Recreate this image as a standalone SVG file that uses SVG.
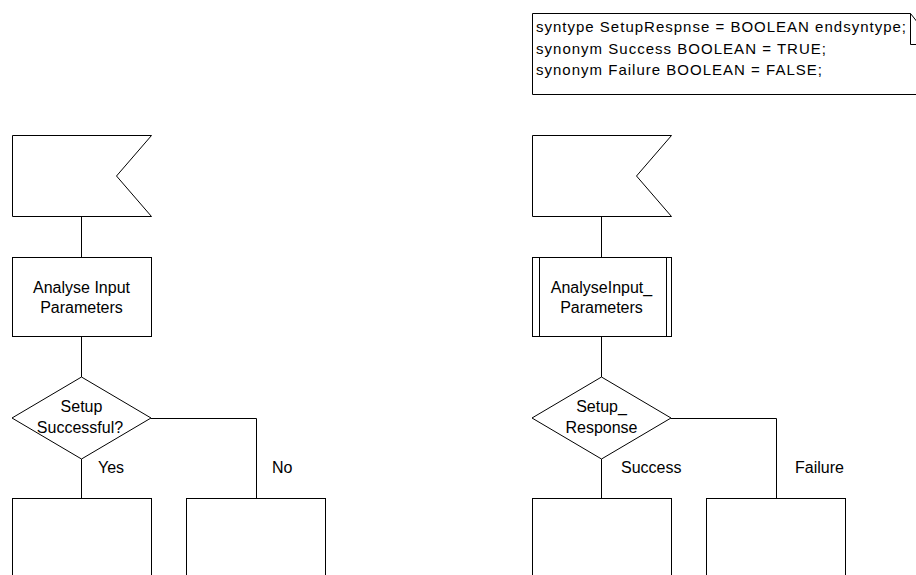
<svg xmlns="http://www.w3.org/2000/svg" width="916" height="575" viewBox="0 0 916 575">
  <style>
    .sym { fill: #fff; stroke: #000; stroke-width: 1; }
    .ln { fill: none; stroke: #000; stroke-width: 1; }
    text { font-family: "Liberation Sans", Arial, sans-serif; font-size: 16px; fill: #000; }
    .c { text-anchor: middle; }
    .decl { font-size: 15px; }
  </style>
  <rect width="916" height="575" fill="#fff"/>

  <!-- connectors -->
  <g id="connectors" class="ln">
    <path d="M81.5,216.5 V257.5"/>
    <path d="M81.5,336.5 V377"/>
    <path d="M81.5,459 V498.5"/>
    <path d="M151,418.5 H256.5 V498.5"/>
    <path d="M601.5,216.5 V257.5"/>
    <path d="M601.5,336.5 V377"/>
    <path d="M601.5,459 V498.5"/>
    <path d="M671,418.5 H776.5 V498.5"/>
  </g>

  <!-- declarations text symbol -->
  <g id="decl">
    <path class="ln" d="M910.5,13.5 H532.5 V94.5 H920"/>
    <path class="ln" d="M910.5,13.5 L935,44.5 M910.5,13.5 V44.5 H935"/>
    <text class="decl" x="536" y="32" textLength="370" lengthAdjust="spacing">syntype SetupRespnse = BOOLEAN endsyntype;</text>
    <text class="decl" x="536" y="53.5" textLength="290" lengthAdjust="spacing">synonym Success BOOLEAN = TRUE;</text>
    <text class="decl" x="536" y="75" textLength="286" lengthAdjust="spacing">synonym Failure BOOLEAN = FALSE;</text>
  </g>

  <!-- left flow -->
  <g id="input1">
    <path class="sym" d="M12.5,135.5 H151.5 L116.5,176 L151.5,216.5 H12.5 Z"/>
  </g>
  <g id="task1">
    <rect class="sym" x="12.5" y="257.5" width="139" height="79"/>
    <text class="c" x="81.5" y="293">Analyse Input</text>
    <text class="c" x="81.5" y="313">Parameters</text>
  </g>
  <g id="decision1">
    <path class="sym" d="M81.5,377 L151,418 L81.5,459 L12,418 Z"/>
    <text class="c" x="81.5" y="412">Setup</text>
    <text class="c" x="80" y="433">Successful?</text>
  </g>
  <text x="98" y="473">Yes</text>
  <text x="272" y="473">No</text>
  <g id="yes1">
    <rect class="sym" x="12.5" y="498.5" width="139" height="100"/>
  </g>
  <g id="no1">
    <rect class="sym" x="186.5" y="498.5" width="139" height="100"/>
  </g>

  <!-- right flow -->
  <g id="input2">
    <path class="sym" d="M532.5,135.5 H671.5 L636.5,176 L671.5,216.5 H532.5 Z"/>
  </g>
  <g id="proc2">
    <rect class="sym" x="532.5" y="257.5" width="139" height="79"/>
    <path class="ln" d="M539.5,257.5 V336.5 M666.5,257.5 V336.5"/>
    <text class="c" x="601.5" y="293">AnalyseInput_</text>
    <text class="c" x="601.5" y="313">Parameters</text>
  </g>
  <g id="decision2">
    <path class="sym" d="M601.5,377 L671,418 L601.5,459 L532,418 Z"/>
    <text class="c" x="601.5" y="412">Setup_</text>
    <text class="c" x="601.5" y="433">Response</text>
  </g>
  <text x="621" y="473">Success</text>
  <text x="795" y="473">Failure</text>
  <g id="success2">
    <rect class="sym" x="532.5" y="498.5" width="139" height="100"/>
  </g>
  <g id="failure2">
    <rect class="sym" x="706.5" y="498.5" width="139" height="100"/>
  </g>
</svg>
